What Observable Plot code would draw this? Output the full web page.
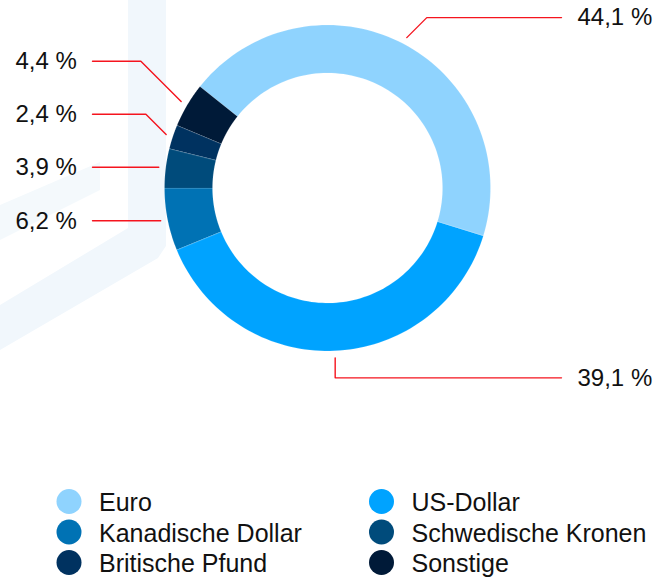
<!DOCTYPE html>
<html>
<head>
<meta charset="utf-8">
<script src="https://cdn.jsdelivr.net/npm/d3@7"></script>
<script src="https://cdn.jsdelivr.net/npm/@observablehq/plot@0.6"></script>
<style>
  html, body { margin: 0; padding: 0; background: #ffffff; }
  #wrap { position: relative; width: 670px; height: 579px; overflow: hidden; }
  .wm { position: absolute; left: 0; top: 0; width: 670px; height: 579px; background: #f1f7fc; }
  #chart { position: absolute; left: 0; top: 0; }
</style>
</head>
<body>
<div id="wrap">
  <div class="wm" style="clip-path: polygon(128px 0px, 166px 0px, 166px 246px, 158px 258px, 0px 350px, 0px 305px, 128px 228px);"></div>
  <div class="wm" style="background:#f4f9fc; clip-path: polygon(0px 205px, 100px 162px, 100px 190px, 0px 240px);"></div>
  <div id="chart"></div>
</div>
<script>
// ---- data ----
const categories = ["Euro", "US-Dollar", "Kanadische Dollar", "Schwedische Kronen", "Britische Pfund", "Sonstige"];
const shares = [44.1, 39.1, 6.2, 3.9, 2.4, 4.4];
const colors = ["#8fd3fe", "#00a3ff", "#0072b4", "#004b7b", "#003260", "#001a38"];

// ---- layout ----
const W = 670, H = 579;
const cx = 327, cy = 187.5, rOuter = 163, rInner = 115, rLeader = 170;
const startAngle = -51.5 * Math.PI / 180;
const fmt = v => v.toFixed(1).replace(".", ",") + " %";

const pie = d3.pie().sort(null).value(d => d.share)
  .startAngle(startAngle).endAngle(startAngle + 2 * Math.PI);
const data = categories.map((name, i) => ({name, share: shares[i], color: colors[i], i}));
const arcs = pie(data);

const pt = (a, r) => [cx + r * Math.sin(a), cy - r * Math.cos(a)];

// ring polygons
const ringPts = [];
for (const a of arcs) {
  const n = 80;
  for (let k = 0; k <= n; k++) {
    const t = a.startAngle + (a.endAngle - a.startAngle) * k / n;
    const [x, y] = pt(t, rOuter);
    ringPts.push({name: a.data.name, x, y});
  }
  for (let k = n; k >= 0; k--) {
    const t = a.startAngle + (a.endAngle - a.startAngle) * k / n;
    const [x, y] = pt(t, rInner);
    ringPts.push({name: a.data.name, x, y});
  }
}

// leader lines & labels
const leftX = 92, leftTextX = 15, rightX = 561, rightTextX = 577, gap = 53, vOff = 20;
const anchors = arcs.map(a => {
  const mid = (a.startAngle + a.endAngle) / 2;
  const [x, y] = pt(mid, rLeader);
  return {name: a.data.name, share: a.data.share, mid, x, y, right: Math.sin(mid) > 0.02};
});
// left side: stack labels, pushing upward to avoid overlap
const leftSide = anchors.filter(d => !d.right).sort((a, b) => b.y - a.y);
let prev = Infinity;
for (const d of leftSide) {
  d.ly = Math.min(d.y, prev - gap);
  prev = d.ly;
}
for (const d of anchors.filter(d => d.right)) {
  d.ly = d.y + (Math.cos(d.mid) > 0 ? -vOff : vOff);
}
const leaderPts = [];
for (const d of anchors) {
  const dy = Math.abs(d.y - d.ly);
  if (d.right) {
    const ex = Math.abs(Math.sin(d.mid)) > 0.1 ? d.x + dy : d.x;
    leaderPts.push({name: d.name, x: d.x, y: d.y}, {name: d.name, x: ex, y: d.ly}, {name: d.name, x: rightX, y: d.ly});
  } else {
    const ex = d.x - dy;
    leaderPts.push({name: d.name, x: leftX, y: d.ly}, {name: d.name, x: ex, y: d.ly}, {name: d.name, x: d.x, y: d.y});
  }
}
const labelData = anchors.map(d => ({
  text: fmt(d.share),
  x: d.right ? rightTextX : leftTextX,
  y: d.ly
}));

// legend
const legX = [68.5, 381], legY0 = 501, legDY = 30.5, legTextDX = 30;
const legend = data.map((d, i) => ({
  name: d.name,
  x: legX[i % 2],
  y: legY0 + Math.floor(i / 2) * legDY
}));

const plot = Plot.plot({
  width: W,
  height: H,
  margin: 0,
  style: {background: "transparent", fontFamily: "'Liberation Sans', Arial, Helvetica, sans-serif", color: "#1d1d1b"},
  x: {domain: [0, W], range: [0, W], axis: null},
  y: {domain: [0, H], range: [0, H], axis: null},
  color: {domain: categories, range: colors},
  marks: [
    Plot.line(ringPts, {x: "x", y: "y", z: "name", fill: "name", stroke: "#ffffff", strokeWidth: 0.4, strokeOpacity: 0.35, curve: "linear-closed"}),
    Plot.line(leaderPts, {x: "x", y: "y", z: "name", stroke: "#f5141e", strokeWidth: 1.4, curve: "linear"}),
    Plot.text(labelData, {x: "x", y: "y", text: "text", textAnchor: "start", fontSize: 24, fill: "#111111"}),
    Plot.dot(legend, {x: "x", y: "y", r: 12.5, fill: "name", stroke: null}),
    Plot.text(legend, {x: d => d.x + legTextDX, y: d => d.y + 1.5, text: "name", textAnchor: "start", fontSize: 25, fill: "#111111"})
  ]
});
document.getElementById("chart").appendChild(plot);
</script>
</body>
</html>
